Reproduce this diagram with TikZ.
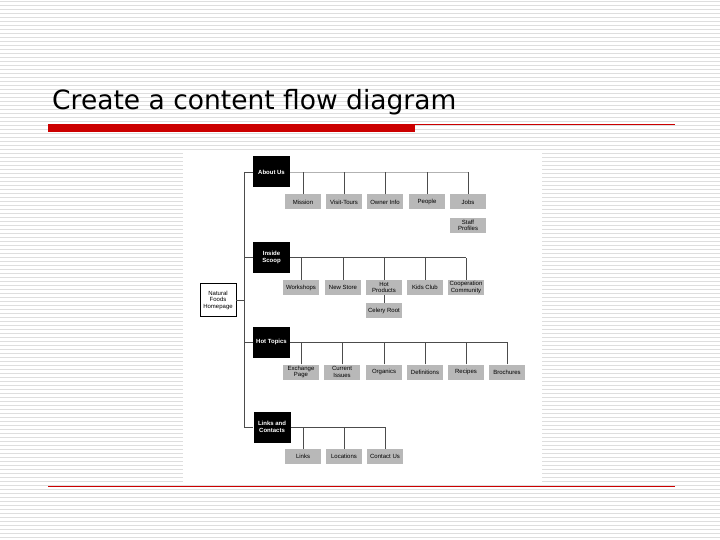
\documentclass[tikz,border=0pt]{standalone}
\usepackage{fontspec}
\setmainfont{Liberation Sans}
\newfontfamily\titlefont{DejaVu Sans}
\begin{document}
\begin{tikzpicture}[x=1pt,y=-1pt,
  blk/.style={fill=black,text=white,minimum width=37pt,minimum height=31pt,inner sep=0pt,align=center,font=\fontsize{6}{6.5}\selectfont\bfseries},
  gry/.style={fill=black!28,minimum width=36pt,minimum height=15pt,inner sep=0pt,align=center,font=\fontsize{6}{6.5}\selectfont},
  ln/.style={draw=black!70,line width=0.8pt}]
\useasboundingbox (0,0) rectangle (720,540);
\fill[white] (0,0) rectangle (720,540);
\foreach \y in {1,5,...,537} \fill[black!13] (0,\y) rectangle (720,\y+1.4);
\node[anchor=base west,font=\titlefont\fontsize{26.5}{30}\selectfont,inner sep=0pt] (title) at (52,110) {Create a content flow diagram};
\fill[red!80!black] (48,124) rectangle (415,132);
\draw[red!80!black,line width=0.6pt] (415,124) -- (675,124);
\draw[red!80!black,line width=0.6pt] (48,486) -- (675,486);
\fill[white] (183,150) rectangle (542,484);
% trunk
\coordinate (t1) at (244,172); \coordinate (t4) at (244,427);
\coordinate (th) at (244,300);
\node[draw,fill=white,minimum width=36pt,minimum height=33pt,inner sep=0pt,align=center,font=\fontsize{6}{6.5}\selectfont] (home) at (218,300) {Natural\\Foods\\Homepage};
\draw[ln] (t1) -- (t4);
\draw[ln] (home) -- (th);
% About Us
\node[blk] (about) at (271.5,172) {About Us};
\coordinate (ae) at (468,172);
\draw[black!30,line width=0.8pt] (about) -- (ae);
\draw[ln] (t1) -- (about);
\foreach \n/\x/\t in {mis/303/Mission,vis/344/Visit-Tours,own/385/Owner Info,peo/427/People,job/468/Jobs}{
  \node[gry] (\n) at (\x,202) {\t};
  \draw[ln] (\n.north) -- (\x,172);}
\node[gry] (staff) at (468,225.5) {Staff\\Profiles};
% Inside Scoop
\node[blk] (ins) at (271.5,257.5) {Inside\\Scoop};
\coordinate (ie) at (466,257.5);
\draw[ln] (244,257.5) -- (ins); \draw[ln] (ins) -- (ie);
\foreach \n/\x/\t in {wor/301/Workshops,nst/343/New Store,hot/384/Hot\\Products,kid/425/Kids Club,coo/466/Cooperation\\Community}{
  \node[gry] (\n) at (\x,287.5) {\t};
  \draw[ln] (\n.north) -- (\x,257.5);}
\node[gry] (cel) at (384,310.5) {Celery Root};
\draw[ln] (hot) -- (cel);
% Hot Topics
\node[blk] (hott) at (271.5,342) {Hot Topics};
\coordinate (he) at (507,342);
\draw[ln] (244,342) -- (hott); \draw[ln] (hott) -- (he);
\foreach \n/\x/\t in {exc/301/Exchange\\Page,cur/342/Current\\Issues,org/384/Organics,def/425/Definitions,rec/466/Recipes,bro/507/Brochures}{
  \node[gry] (\n) at (\x,372) {\t};
  \draw[ln] (\n.north) -- (\x,342);}
% Links
\node[blk] (lnk) at (272,427) {Links and\\Contacts};
\coordinate (le) at (385,427);
\draw[ln] (t4) -- (lnk); \draw[ln] (lnk) -- (le);
\foreach \n/\x/\t in {lin/303/Links,loc/344/Locations,con/385/Contact Us}{
  \node[gry] (\n) at (\x,456.5) {\t};
  \draw[ln] (\n.north) -- (\x,427);}
\end{tikzpicture}
\end{document}
